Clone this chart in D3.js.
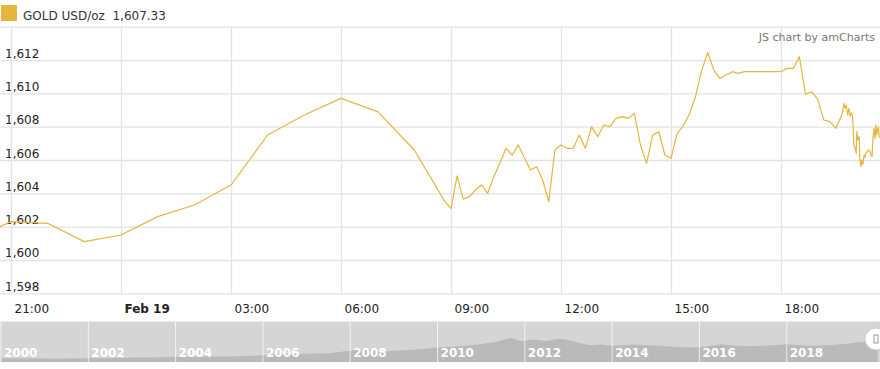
<!DOCTYPE html>
<html>
<head>
<meta charset="utf-8">
<script src="https://cdn.jsdelivr.net/npm/d3@7"></script>
<style>
  body { margin: 0; background: #fff; }
  svg { font-family: "DejaVu Sans", Verdana, sans-serif; display: block; }
</style>
</head>
<body>
<svg id="chart"></svg>
<script>
// intraday gold price, Feb 18-19 2020
const times = [
  "2020-02-18 20:42", "2020-02-18 21:00", "2020-02-18 22:00", "2020-02-18 23:00",
  "2020-02-19 00:00", "2020-02-19 01:00", "2020-02-19 02:00", "2020-02-19 03:00",
  "2020-02-19 04:00", "2020-02-19 05:00", "2020-02-19 06:00", "2020-02-19 07:00",
  "2020-02-19 08:00", "2020-02-19 08:50", "2020-02-19 09:00", "2020-02-19 09:10",
  "2020-02-19 09:20", "2020-02-19 09:30", "2020-02-19 09:40", "2020-02-19 09:50",
  "2020-02-19 10:00", "2020-02-19 10:10", "2020-02-19 10:20", "2020-02-19 10:30",
  "2020-02-19 10:40", "2020-02-19 10:50", "2020-02-19 11:00", "2020-02-19 11:10",
  "2020-02-19 11:20", "2020-02-19 11:30", "2020-02-19 11:40", "2020-02-19 11:50",
  "2020-02-19 12:00", "2020-02-19 12:10", "2020-02-19 12:20", "2020-02-19 12:30",
  "2020-02-19 12:40", "2020-02-19 12:50", "2020-02-19 13:00", "2020-02-19 13:10",
  "2020-02-19 13:20", "2020-02-19 13:30", "2020-02-19 13:40", "2020-02-19 13:50",
  "2020-02-19 14:00", "2020-02-19 14:10", "2020-02-19 14:20", "2020-02-19 14:30",
  "2020-02-19 14:40", "2020-02-19 14:50", "2020-02-19 15:00", "2020-02-19 15:10",
  "2020-02-19 15:20", "2020-02-19 15:30", "2020-02-19 15:40", "2020-02-19 15:50",
  "2020-02-19 16:00", "2020-02-19 16:10", "2020-02-19 16:20", "2020-02-19 16:30",
  "2020-02-19 16:40", "2020-02-19 16:50", "2020-02-19 17:00", "2020-02-19 18:00",
  "2020-02-19 18:10", "2020-02-19 18:20", "2020-02-19 18:30", "2020-02-19 18:40",
  "2020-02-19 18:50", "2020-02-19 19:00", "2020-02-19 19:10", "2020-02-19 19:20",
  "2020-02-19 19:30", "2020-02-19 19:40", "2020-02-19 19:43", "2020-02-19 19:45",
  "2020-02-19 19:47", "2020-02-19 19:49", "2020-02-19 19:51", "2020-02-19 19:53",
  "2020-02-19 19:55", "2020-02-19 19:57", "2020-02-19 19:58", "2020-02-19 19:59",
  "2020-02-19 20:01", "2020-02-19 20:03", "2020-02-19 20:04", "2020-02-19 20:06",
  "2020-02-19 20:08", "2020-02-19 20:09", "2020-02-19 20:11", "2020-02-19 20:12",
  "2020-02-19 20:14", "2020-02-19 20:16", "2020-02-19 20:17", "2020-02-19 20:19",
  "2020-02-19 20:21", "2020-02-19 20:23", "2020-02-19 20:26", "2020-02-19 20:27",
  "2020-02-19 20:29", "2020-02-19 20:30", "2020-02-19 20:32", "2020-02-19 20:34",
  "2020-02-19 20:35", "2020-02-19 20:37", "2020-02-19 20:39", "2020-02-19 20:41"
];
const prices = [
  1602.0, 1602.3, 1602.2, 1601.1,
  1601.5, 1602.6, 1603.3, 1604.5,
  1607.5, 1608.7, 1609.7, 1608.9,
  1606.6, 1603.5, 1603.1, 1605.05,
  1603.65, 1603.8, 1604.2, 1604.5,
  1604.0, 1605.0, 1605.8, 1606.7,
  1606.3, 1606.9, 1606.15, 1605.4,
  1605.6, 1604.8, 1603.5, 1606.6,
  1606.9, 1606.7, 1606.7, 1607.5,
  1606.7, 1608.0, 1607.4, 1608.1,
  1608.0, 1608.5, 1608.6, 1608.5,
  1608.8, 1606.9, 1605.8, 1607.5,
  1607.7, 1606.3, 1606.1, 1607.6,
  1608.05, 1608.75, 1609.8, 1611.35,
  1612.45, 1611.4, 1610.9, 1611.1,
  1611.3, 1611.2, 1611.3, 1611.3,
  1611.5, 1611.5, 1612.2, 1609.95,
  1610.1, 1609.65, 1608.4, 1608.3,
  1607.9, 1608.75, 1609.4, 1609.1,
  1609.3, 1608.7, 1609.1, 1608.63,
  1608.83, 1608.7, 1608.0, 1606.9,
  1606.75, 1606.4, 1607.7, 1607.2,
  1607.4, 1606.0, 1605.6, 1606.0,
  1605.75, 1606.3, 1606.15, 1606.4,
  1606.5, 1606.6, 1606.5, 1606.3,
  1606.2, 1607.0, 1607.9, 1607.3,
  1608.1, 1607.5, 1608.0, 1607.33
];

const yTicks = [1598, 1600, 1602, 1604, 1606, 1608, 1610, 1612, 1614];
const xTicks = ["2020-02-18 21:00", "2020-02-19 00:00", "2020-02-19 03:00", "2020-02-19 06:00",
                "2020-02-19 09:00", "2020-02-19 12:00", "2020-02-19 15:00", "2020-02-19 18:00"];
const xTickLabels = ["21:00", "Feb 19", "03:00", "06:00", "09:00", "12:00", "15:00", "18:00"];

// long-range history shown in the scrollbar
const scrollDates = [
  "2000-01", "2000-07", "2001-01", "2001-07", "2002-01", "2002-07", "2003-01", "2003-07",
  "2004-01", "2004-07", "2005-01", "2005-07", "2006-01", "2006-07", "2007-01", "2007-07",
  "2008-01", "2008-03", "2008-07", "2008-10", "2009-01", "2009-07", "2010-01", "2010-07",
  "2011-01", "2011-05", "2011-09", "2011-12", "2012-03", "2012-07", "2012-10", "2013-01",
  "2013-04", "2013-07", "2013-10", "2014-01", "2014-07", "2015-01", "2015-07", "2016-01",
  "2016-07", "2017-01", "2017-07", "2018-01", "2018-07", "2019-01", "2019-07", "2019-09",
  "2020-01", "2020-02"
];
const scrollPrices = [
  290, 285, 270, 270, 285, 310, 350, 350,
  400, 395, 420, 430, 520, 600, 630, 660,
  860, 940, 920, 760, 860, 940, 1110, 1200,
  1360, 1520, 1850, 1600, 1700, 1600, 1760, 1670,
  1450, 1280, 1320, 1240, 1320, 1250, 1130, 1100,
  1340, 1190, 1240, 1340, 1230, 1290, 1420, 1520,
  1560, 1605
];
const scrollYears = ["2000", "2002", "2004", "2006", "2008", "2010", "2012", "2014", "2016", "2018"];

const width = 880, height = 369;
const plot = { left: 0, right: 880, top: 26.7, bottom: 293.3 };
const scroll = { top: 321.5, bottom: 362 };
const gold = "#e7b53c";
const fontFamily = '"DejaVu Sans", Verdana, sans-serif';

const parseTime = d3.timeParse("%Y-%m-%d %H:%M");
const parseMonth = d3.timeParse("%Y-%m");

const data = times.map((t, i) => ({ date: parseTime(t), value: prices[i] }));
const scrollData = scrollDates.map((t, i) => ({ date: parseMonth(t), value: scrollPrices[i] }));

const svg = d3.select("#chart").attr("width", width).attr("height", height);

const x = d3.scaleTime()
  .domain([parseTime("2020-02-18 20:42"), parseTime("2020-02-19 20:42")])
  .range([plot.left, plot.right]);

const y = d3.scaleLinear()
  .domain([1598, 1614])
  .range([plot.bottom, plot.top]);

// horizontal grid + value labels
const yAxis = svg.append("g")
  .call(d3.axisLeft(y).tickValues(yTicks).tickSize(-width).tickFormat(d => d === 1614 ? "" : d3.format(",")(d)))
  .attr("font-family", fontFamily).attr("font-size", 12);
yAxis.select(".domain").remove();
yAxis.selectAll(".tick line").attr("stroke", "#e3e3e3").attr("stroke-width", 1.3);
yAxis.selectAll(".tick text")
  .attr("x", 5).attr("dy", -3).attr("text-anchor", "start")
  .attr("fill", "#222");

// vertical grid + time labels
const xAxis = svg.append("g")
  .attr("transform", `translate(0,${plot.bottom})`)
  .call(d3.axisBottom(x)
    .tickValues(xTicks.map(parseTime))
    .tickSize(-(plot.bottom - plot.top))
    .tickFormat((d, i) => xTickLabels[i]))
  .attr("font-family", fontFamily).attr("font-size", 12);
xAxis.select(".domain").remove();
xAxis.selectAll(".tick line").attr("stroke", "#e3e3e3").attr("stroke-width", 1.3);
xAxis.selectAll(".tick text")
  .attr("x", 3).attr("y", 20).attr("dy", 0).attr("text-anchor", "start")
  .attr("fill", "#222")
  .style("font-weight", (d, i) => xTickLabels[i] === "Feb 19" ? "bold" : "normal");

// price line
const line = d3.line().x(d => x(d.date)).y(d => y(d.value));
svg.append("clipPath").attr("id", "clip")
  .append("rect").attr("x", 0).attr("y", 0).attr("width", width).attr("height", plot.bottom);
svg.append("path")
  .datum(data)
  .attr("clip-path", "url(#clip)")
  .attr("fill", "none")
  .attr("stroke", gold)
  .attr("stroke-width", 1.2)
  .attr("stroke-linejoin", "round")
  .attr("d", line);

// legend
svg.append("rect").attr("x", 1).attr("y", 5).attr("width", 16).attr("height", 16).attr("fill", gold);
svg.append("text").attr("x", 23).attr("y", 19.5)
  .attr("fill", "#333").style("font-size", "12px").style("white-space", "pre")
  .text("GOLD USD/oz  1,607.33");

svg.append("text").attr("x", 875).attr("y", 41)
  .attr("text-anchor", "end").attr("fill", "#777").style("font-size", "11px")
  .text("JS chart by amCharts");

// scrollbar
const sx = d3.scaleTime()
  .domain([parseMonth("2000-01"), parseMonth("2020-01")])
  .range([1, 874]);
const sy = d3.scaleLinear()
  .domain([0, 3075])
  .range([scroll.bottom, scroll.top]);

const sb = svg.append("g");
sb.append("clipPath").attr("id", "sclip")
  .append("rect").attr("x", 0).attr("y", scroll.top).attr("width", width).attr("height", scroll.bottom - scroll.top);
sb.append("rect")
  .attr("x", 0).attr("y", scroll.top).attr("width", width).attr("height", scroll.bottom - scroll.top)
  .attr("fill", "#d5d5d5");
sb.append("path")
  .datum(scrollData)
  .attr("clip-path", "url(#sclip)")
  .attr("fill", "#bababa")
  .attr("d", d3.area().x(d => sx(d.date)).y0(scroll.bottom).y1(d => sy(d.value)));

const years = sb.selectAll(".year")
  .data(scrollYears)
  .enter().append("g")
  .attr("class", "year")
  .attr("transform", d => `translate(${sx(parseMonth(d + "-01"))},0)`);
years.append("line")
  .attr("y1", scroll.top).attr("y2", scroll.bottom)
  .attr("stroke", "#fff").attr("stroke-opacity", 0.7);
years.append("text")
  .attr("x", 3).attr("y", 356.5)
  .attr("fill", "#fff").style("font-size", "12px").style("font-weight", "bold")
  .text(d => d);

// grip
const grip = sb.append("g").attr("transform", `translate(876,339)`);
grip.append("circle").attr("r", 11).attr("fill", "#fff").attr("stroke", "#ccc");
grip.append("rect").attr("x", -2).attr("y", -4).attr("width", 4).attr("height", 8)
  .attr("fill", "none").attr("stroke", "#999");
</script>
</body>
</html>
